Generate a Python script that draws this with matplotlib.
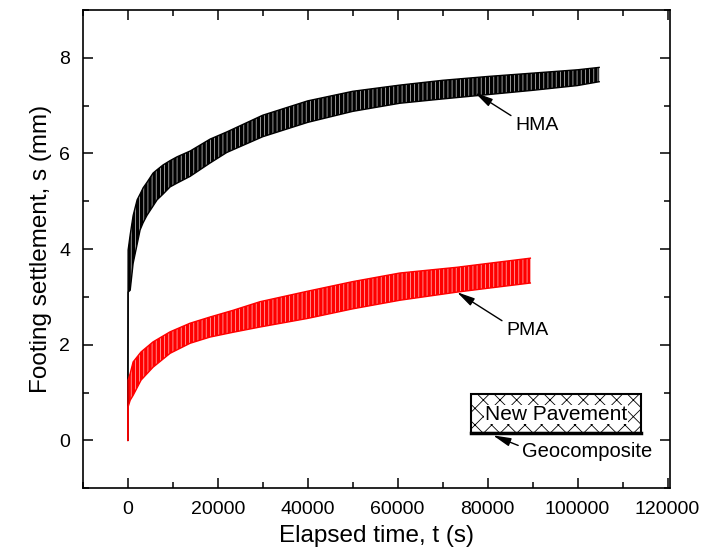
import matplotlib
matplotlib.use("Agg")
import matplotlib.pyplot as plt
from matplotlib.ticker import MultipleLocator
from matplotlib.patches import Rectangle

plt.rcParams['font.family'] = ['Liberation Sans', 'DejaVu Sans']
plt.rcParams['hatch.linewidth'] = 0.6

# HMA envelope (time in s, settlement in mm)
t_hma = [0, 70, 530, 1180, 2070, 2730, 3400, 4290, 5620, 6510, 7840, 9400,
         10950, 13840, 18290, 22000, 30000, 40000, 50000, 60500, 70000,
         80000, 90000, 100000, 104800]
hma_upper = [0, 3.98, 4.30, 4.70, 5.03, 5.15, 5.28, 5.40, 5.59, 5.66, 5.76, 5.85,
             5.93, 6.05, 6.30, 6.45, 6.80, 7.10, 7.30, 7.43, 7.53,
             7.61, 7.68, 7.75, 7.80]
hma_lower = [0, 3.10, 3.14, 3.70, 4.10, 4.40, 4.55, 4.71, 4.90, 5.03, 5.15, 5.30,
             5.38, 5.52, 5.80, 6.02, 6.35, 6.65, 6.88, 7.05, 7.14,
             7.23, 7.32, 7.42, 7.50]

# PMA envelope
t_pma = [0, 70, 530, 1180, 2950, 5620, 9400, 13840, 18290, 23400, 29400,
         40000, 50000, 60500, 73200, 80000, 89500]
pma_upper = [0, 1.26, 1.40, 1.64, 1.85, 2.06, 2.27, 2.45, 2.58, 2.72, 2.90,
             3.12, 3.32, 3.50, 3.62, 3.70, 3.81]
pma_lower = [0, 0.70, 0.84, 0.94, 1.26, 1.53, 1.82, 2.03, 2.16, 2.26, 2.37,
             2.55, 2.75, 2.93, 3.10, 3.18, 3.29]

x_ticks = [0, 20000, 40000, 60000, 80000, 100000, 120000]
y_ticks = [0, 2, 4, 6, 8]

fig = plt.figure(figsize=(7.08, 5.56), dpi=100)
ax = fig.add_axes([0.117, 0.122, 0.829, 0.860])

ax.fill_between(t_hma, hma_lower, hma_upper, facecolor='black',
                edgecolor='#b0b0b0', hatch='||||', linewidth=0)
ax.plot(t_hma, hma_upper, color='black', lw=1.0)
ax.plot(t_hma, hma_lower, color='black', lw=1.0)

ax.fill_between(t_pma, pma_lower, pma_upper, facecolor='red',
                edgecolor='#ffa0a0', hatch='||||', linewidth=0)
ax.plot(t_pma, pma_upper, color='red', lw=1.0)
ax.plot(t_pma, pma_lower, color='red', lw=1.0)

ax.set_xlim(-10000, 120000 + 500)
ax.set_ylim(-1, 9)
ax.set_xticks(x_ticks)
ax.set_yticks(y_ticks)
ax.xaxis.set_minor_locator(MultipleLocator(10000))
ax.yaxis.set_minor_locator(MultipleLocator(1))
ax.tick_params(which='both', direction='in', top=True, right=True, width=1.1)
ax.tick_params(which='major', length=7, labelsize=14, pad=9)
ax.tick_params(which='minor', length=4)
for s in ax.spines.values():
    s.set_linewidth(1.2)

ax.set_xlabel('Elapsed time, t (s)', fontsize=17.5, labelpad=5)
ax.set_ylabel('Footing settlement, s (mm)', fontsize=17.5, labelpad=5)

def arrow(rp):
    return dict(arrowstyle='-|>,head_length=1.2,head_width=0.28', color='black',
                lw=1.0, mutation_scale=9, shrinkA=1, shrinkB=0, relpos=rp)

ax.annotate('HMA', xy=(77180, 7.27), xytext=(86070, 6.58), fontsize=14,
            ha='left', va='center', arrowprops=arrow((0, 0.95)))
ax.annotate('PMA', xy=(73180, 3.10), xytext=(84070, 2.29), fontsize=14,
            ha='left', va='center', arrowprops=arrow((0, 0.95)))

box = Rectangle((76200, 0.153), 38000, 0.81, facecolor='white',
                edgecolor='black', hatch='xx', lw=1.5)
ax.add_patch(box)
ax.plot([76200, 114200], [0.153, 0.153], color='black', lw=2.5)
ax.text(95200, 0.54, 'New Pavement', fontsize=15, ha='center', va='center',
        bbox=dict(facecolor='white', edgecolor='none', pad=0.3))
ax.annotate('Geocomposite', xy=(81180, 0.105), xytext=(87700, -0.24), fontsize=14.5,
            ha='left', va='center', arrowprops=arrow((0, 0.75)))

fig.savefig('out.png', dpi=100)
